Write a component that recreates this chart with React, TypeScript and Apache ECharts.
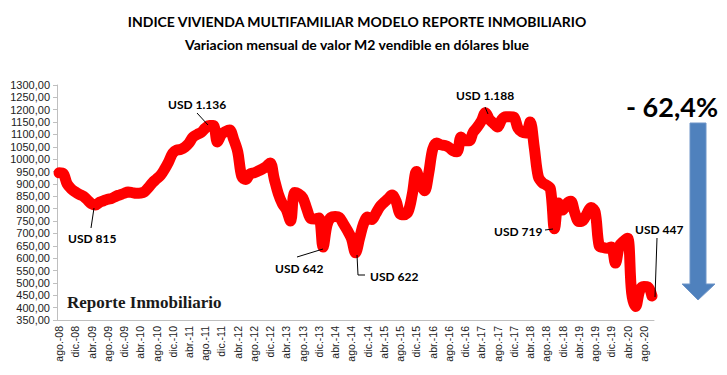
import React, { useEffect, useRef } from "react";
import * as echarts from "echarts";

// Month abbreviations (Spanish) used for category labels
const MONTHS = ["ene.", "feb.", "mar.", "abr.", "may.", "jun.", "jul.", "ago.", "sep.", "oct.", "nov.", "dic."];
const START_YEAR = 2008;
const START_MONTH = 7; // ago.

// USD per m2, monthly values
const V2008 = [945, 942, 900, 880, 868]; // ago-dic
const V2009 = [858, 850, 835, 820, 815, 826, 832, 838, 842, 850, 856, 862];
const V2010 = [867, 865, 862, 863, 868, 885, 905, 920, 935, 960, 990, 1025];
const V2011 = [1037, 1040, 1049, 1065, 1090, 1100, 1108, 1125, 1136, 1136, 1070, 1100];
const V2012 = [1112, 1118, 1080, 1030, 930, 918, 940, 945, 952, 960, 970, 985];
const V2013 = [920, 860, 820, 795, 750, 865, 860, 845, 800, 760, 758, 762];
const V2014 = [645, 735, 765, 768, 765, 740, 712, 680, 622, 680, 740, 766];
const V2015 = [756, 780, 808, 825, 840, 855, 830, 778, 775, 790, 860, 950];
const V2016 = [900, 872, 940, 1040, 1066, 1058, 1055, 1048, 1035, 1030, 1090, 1075];
const V2017 = [1075, 1110, 1130, 1155, 1188, 1160, 1145, 1130, 1160, 1172, 1172, 1170];
const V2018 = [1126, 1110, 1106, 1150, 1050, 930, 905, 895, 880, 719, 823, 795];
const V2019 = [820, 830, 783, 748, 752, 780, 805, 787, 650, 643, 640, 645];
const V2020 = [580, 650, 668, 680, 460, 405, 470, 485, 483, 447]; // ene-oct

const VALUES = [
  ...V2008, ...V2009, ...V2010, ...V2011, ...V2012, ...V2013, ...V2014,
  ...V2015, ...V2016, ...V2017, ...V2018, ...V2019, ...V2020,
];

const CATEGORIES = VALUES.map((_, i) => {
  const k = START_MONTH + i;
  const m = k % 12;
  const y = START_YEAR + Math.floor(k / 12);
  return `${MONTHS[m]}-${String(y % 100).padStart(2, "0")}`;
});

const TITLE_1 = "INDICE VIVIENDA MULTIFAMILIAR MODELO REPORTE INMOBILIARIO";
const TITLE_2 = "Variacion mensual de valor M2 vendible en dólares blue";
const CHANGE_LABEL = "- 62,4%";
const WATERMARK = "Reporte Inmobiliario";

const Y_MIN = 350;
const Y_MAX = 1300;
const Y_STEP = 50;

const LABEL_FONT = "bold 12px Lato, 'Open Sans', sans-serif";
const TITLE_FONT = "bold 14px Lato, 'Open Sans', sans-serif";

export default function App() {
  const ref = useRef<HTMLDivElement>(null);

  useEffect(() => {
    if (!ref.current) return;
    const chart = echarts.init(ref.current, undefined, { renderer: "svg" });

    const txt = (text: string, x: number, y: number, font: string, align = "left") => ({
      type: "text",
      x,
      y,
      style: { text, font, fill: "#000", textAlign: align, textVerticalAlign: "middle" },
      z: 10,
    });
    const ln = (x1: number, y1: number, x2: number, y2: number) => ({
      type: "line",
      shape: { x1, y1, x2, y2 },
      style: { stroke: "#000", lineWidth: 1 },
      z: 10,
    });
    const pl = (points: number[][]) => ({
      type: "polyline",
      shape: { points },
      style: { stroke: "#000", lineWidth: 1, fill: null },
      z: 10,
    });

    chart.setOption({
      animation: false,
      backgroundColor: "#fff",
      grid: { left: 57, right: 73, top: 85, bottom: 55, containLabel: false },
      xAxis: {
        type: "category",
        data: CATEGORIES,
        boundaryGap: true,
        axisLine: { lineStyle: { color: "#bfbfbf", width: 1 } },
        axisTick: { interval: 3, length: 4, lineStyle: { color: "#bfbfbf" } },
        axisLabel: {
          interval: 3,
          rotate: 90,
          fontSize: 10.5,
          color: "#222",
          fontFamily: "'Liberation Sans', Arial, sans-serif",
          margin: 6,
        },
      },
      yAxis: {
        type: "value",
        min: Y_MIN,
        max: Y_MAX,
        interval: Y_STEP,
        axisLine: { show: true, lineStyle: { color: "#bfbfbf", width: 1 } },
        axisTick: { show: true, length: 4, lineStyle: { color: "#bfbfbf" } },
        splitLine: { show: false },
        axisLabel: {
          formatter: (v: number) => v.toFixed(2).replace(".", ","),
          fontSize: 11,
          color: "#222",
          fontFamily: "'Liberation Sans', Arial, sans-serif",
          margin: 7,
        },
      },
      series: [
        {
          type: "line",
          data: VALUES,
          showSymbol: false,
          symbol: "none",
          smooth: 0.35,
          lineStyle: { color: "#ff0000", width: 11, cap: "round", join: "round" },
        },
      ],
      graphic: [
        txt(TITLE_1, 357, 21, TITLE_FONT, "center"),
        txt(TITLE_2, 357, 44, TITLE_FONT, "center"),
        txt(CHANGE_LABEL, 672, 106, "bold 27px Lato, 'Open Sans', sans-serif", "center"),
        {
          type: "polygon",
          shape: {
            points: [
              [690, 123], [706, 123], [706, 284], [715, 284],
              [698, 300], [682, 284], [690, 284],
            ],
          },
          style: { fill: "#4f81bd", stroke: "#6f95c8", lineWidth: 1 },
          z: 10,
        },
        txt("USD 815", 68, 238, LABEL_FONT),
        ln(94, 208, 91, 228),
        txt("USD 1.136", 168, 104, LABEL_FONT),
        ln(197, 113, 208, 125),
        txt("USD 642", 275, 268, LABEL_FONT),
        ln(297, 257, 323, 249),
        txt("USD 622", 370, 276, LABEL_FONT),
        pl([[357, 255], [358, 275], [365, 275]]),
        txt("USD 1.188", 456, 95, LABEL_FONT),
        ln(485, 107, 488, 114),
        txt("USD 719", 494, 231, LABEL_FONT),
        ln(545, 230, 553, 229),
        txt("USD 447", 635, 229, LABEL_FONT),
        ln(657, 238, 655, 297),
        {
          type: "text",
          x: 67,
          y: 302,
          style: {
            text: WATERMARK,
            font: "bold 17px 'Liberation Serif', 'DejaVu Serif', serif",
            fill: "#1a1a1a",
            textAlign: "left",
            textVerticalAlign: "middle",
          },
          z: 10,
        },
      ],
    });

    return () => chart.dispose();
  }, []);

  return <div ref={ref} style={{ width: 727, height: 375, position: "absolute", left: 0, top: 0 }} />;
}
